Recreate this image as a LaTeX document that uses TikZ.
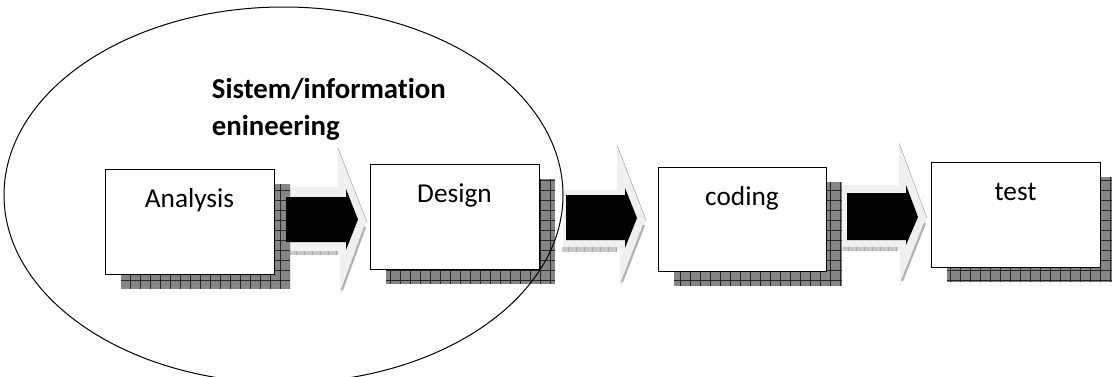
\documentclass[tikz,border=0pt]{standalone}
\usepackage{fontspec}
\setmainfont{Carlito}[Ligatures=NoCommon]
\newcommand\dropshadow[4]{%
  \begin{scope}
    \clip (#1,#2) rectangle (#3,#4);
    \fill[shadowfill] (#1,#2) rectangle (#3,#4);
    \draw[shadowgrid, step=10pt] (#1,#2) grid (#3,#4);
  \end{scope}}
\newcommand\arrowstrip[4]{%
  \begin{scope}
    \clip (#1,#2) rectangle (#3,#4);
    \fill[black!22] (#1,#2) rectangle (#3,#4);
    \draw[black!35, line width=0.4pt, xstep=8pt, ystep=100pt] (#1,#2) grid (#3,#4);
  \end{scope}}
\begin{document}
\begin{tikzpicture}[x=1pt,y=-1pt,
  shadowfill/.style={fill=black!48},
  shadowgrid/.style={draw=black!85, line width=0.6pt},
  box/.style={draw=black, line width=1.3pt, fill=white, inner sep=0pt, anchor=north west},
  lbl/.style={font=\fontsize{27.3}{30}\selectfont, anchor=base, inner sep=0pt},
  ttl/.style={font=\bfseries\fontsize{28.8}{34}\selectfont, anchor=base west, inner sep=0pt},
  garrow/.style={fill=black!6},
  gedge/.style={draw=black!35, line width=0.5pt},
  gside/.style={draw=black!30, line width=2.2pt},
  barrow/.style={fill=black},
  ell/.style={draw=black, line width=1pt}]
\useasboundingbox (0,0) rectangle (1112,376);
\clip (0,0) rectangle (1112,376);

% light 3D block arrows
\fill[garrow] (285,187) -- (338,187) -- (338,148) -- (367,222) -- (340,297) -- (340,255) -- (285,255) -- cycle;
\draw[gedge] (338,148) -- (367,222);
\draw[gside] (365,227) -- (342,290);
\arrowstrip{283}{251}{338}{255}

\fill[garrow] (563,190) -- (617,190) -- (617,145) -- (646,220) -- (620,288) -- (620,250) -- (563,250) -- cycle;
\draw[gedge] (617,145) -- (646,220);
\draw[gside] (644,225) -- (622,282);
\arrowstrip{562}{247}{617}{251.5}

\fill[garrow] (840,185) -- (899,185) -- (899,143) -- (927,218) -- (900,287) -- (900,250) -- (840,250) -- cycle;
\draw[gedge] (899,143) -- (927,218);
\draw[gside] (925,223) -- (902,281);
\arrowstrip{843}{247}{898}{251}

% shadows
\dropshadow{121}{184}{290}{289}
\dropshadow{386}{179}{555}{284}
\dropshadow{674}{182}{842}{286}
\dropshadow{947}{177}{1116}{282}

% boxes
\node[box, minimum width=169pt, minimum height=105pt] (analysis) at (105,169) {};
\node[box, minimum width=169pt, minimum height=105pt] (design) at (370,164) {};
\node[box, minimum width=168pt, minimum height=104pt] (coding) at (658,167) {};
\node[box, minimum width=169pt, minimum height=105pt] (test) at (931,162) {};

\node[lbl] (analysisL) at (189.5,207) {Analysis};
\node[lbl] (designL) at (454.5,202.5) {Design};
\node[lbl] (codingL) at (742,205.5) {coding};
\node[lbl] (testL) at (1015.5,200.5) {test};

% black block arrows
\fill[barrow] (286,197) -- (346,197) -- (346,189) -- (358,219.5) -- (346,250) -- (346,242) -- (286,242) -- cycle;
\fill[barrow] (566,195) -- (625,195) -- (625,188) -- (637,218) -- (625,248) -- (625,240) -- (566,240) -- cycle;
\fill[barrow] (847,193) -- (906,193) -- (906,185) -- (918,217) -- (906,245) -- (906,240) -- (847,240) -- cycle;

% title
\node[ttl] (title1) at (211.7,98) {Sistem/information};
\node[ttl] (title2) at (211.7,135) {enineering};

% ellipse
\draw[ell] (283.5,195) ellipse [x radius=279.5pt, y radius=188pt];
\end{tikzpicture}
\end{document}
